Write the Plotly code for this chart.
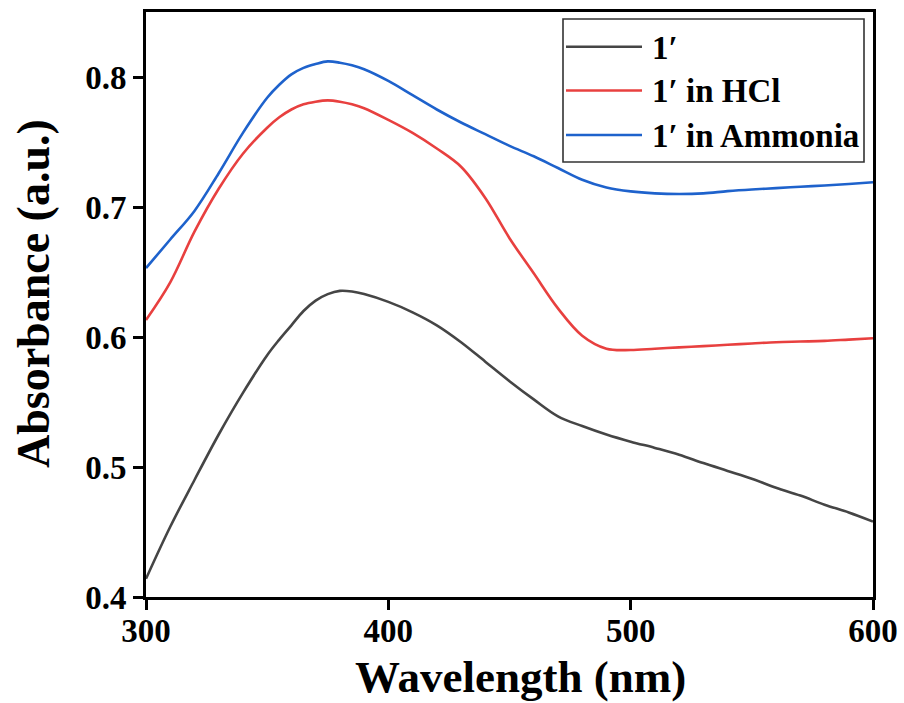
import plotly.graph_objects as go

# Wavelength grid (nm) and absorbance readings for each sample
wavelength = [300, 310, 320, 330, 340, 350, 355, 360, 365, 370, 375, 380, 385, 390,
              400, 410, 420, 430, 440, 450, 460, 470, 480, 490, 500, 510, 520, 530,
              540, 550, 560, 570, 580, 590, 600]

abs_plain = [0.414, 0.454, 0.490, 0.525, 0.557, 0.586, 0.598, 0.609, 0.620, 0.628,
             0.633, 0.6355, 0.635, 0.633, 0.627, 0.619, 0.609, 0.596, 0.581, 0.566,
             0.552, 0.539, 0.5315, 0.525, 0.5195, 0.5147, 0.5095, 0.503, 0.497, 0.491,
             0.484, 0.478, 0.471, 0.465, 0.458]

abs_hcl = [0.613, 0.642, 0.681, 0.714, 0.741, 0.761, 0.769, 0.775, 0.779, 0.781,
           0.782, 0.781, 0.779, 0.776, 0.767, 0.757, 0.745, 0.731, 0.707, 0.676,
           0.649, 0.622, 0.601, 0.591, 0.590, 0.591, 0.592, 0.593, 0.594, 0.595,
           0.596, 0.5965, 0.597, 0.598, 0.599]

abs_ammonia = [0.653, 0.675, 0.697, 0.726, 0.757, 0.784, 0.794, 0.802, 0.807, 0.810,
               0.812, 0.811, 0.809, 0.806, 0.797, 0.786, 0.775, 0.765, 0.756, 0.747,
               0.739, 0.730, 0.721, 0.715, 0.712, 0.7105, 0.710, 0.7105, 0.7122,
               0.7135, 0.7145, 0.7156, 0.7165, 0.7177, 0.719]

series_names = ["1\u2032", "1\u2032 in HCl", "1\u2032 in Ammonia"]
series_values = [abs_plain, abs_hcl, abs_ammonia]
series_colors = ["#454545", "#E8403F", "#1E62CC"]

x_ticks = [300, 400, 500, 600]
y_ticks = [0.4, 0.5, 0.6, 0.7, 0.8]

FONT = "Liberation Serif"

fig = go.Figure()
for name, vals, col in zip(series_names, series_values, series_colors):
    fig.add_trace(go.Scatter(
        x=wavelength, y=vals, mode="lines", name=name,
        line=dict(color=col, width=2.6, shape="spline", smoothing=1.0),
        showlegend=False,
    ))

# Plot-area geometry in pixels, used to place the framed legend
L, R, T, B = 146, 873, 12, 597
W, H = R - L, B - T


def px_x(p):
    return (p - L) / W


def px_y(p):
    return (B - p) / H


shapes = [dict(type="rect", xref="paper", yref="paper",
               x0=px_x(563), x1=px_x(864), y0=px_y(162), y1=px_y(19),
               line=dict(color="#333333", width=1.6), fillcolor="white", layer="above")]
annotations = []
row_y = [46.7, 90.5, 135]
for name, col, ry in zip(series_names, series_colors, row_y):
    shapes.append(dict(type="line", xref="paper", yref="paper",
                       x0=px_x(566), x1=px_x(642), y0=px_y(ry), y1=px_y(ry),
                       line=dict(color=col, width=2.6), layer="above"))
    annotations.append(dict(xref="paper", yref="paper", x=px_x(650), y=px_y(ry + 1),
                            xanchor="left", yanchor="middle", showarrow=False,
                            text=name, font=dict(family=FONT, size=33, color="black",
                                                 weight="bold")))

# Axis titles
annotations.append(dict(xref="paper", yref="paper", x=px_x(520), y=px_y(677),
                        xanchor="center", yanchor="middle", showarrow=False,
                        text="Wavelength (nm)",
                        font=dict(family=FONT, size=45, color="black", weight="bold")))
annotations.append(dict(xref="paper", yref="paper", x=px_x(33), y=px_y(294),
                        xanchor="center", yanchor="middle", showarrow=False,
                        textangle=-90, text="Absorbance (a.u.)",
                        font=dict(family=FONT, size=46, color="black", weight="bold")))

axis_common = dict(showgrid=False, zeroline=False, showline=True, mirror=True,
                   automargin=False,
                   linecolor="black", linewidth=3, ticks="outside", ticklen=10,
                   tickwidth=3, tickcolor="black",
                   tickfont=dict(family=FONT, size=33, color="black", weight="bold"))

fig.update_layout(
    width=904, height=703,
    margin=dict(l=L, r=904 - R, t=T, b=703 - B, pad=0),
    paper_bgcolor="white", plot_bgcolor="white",
    font=dict(family=FONT, color="black"),
    xaxis=dict(range=[300, 600], tickvals=x_ticks, ticktext=[str(v) for v in x_ticks],
               ticklabelstandoff=-8, **axis_common),
    yaxis=dict(range=[0.4, 0.85], tickvals=y_ticks, ticktext=[f"{v:.1f}" for v in y_ticks],
               **axis_common),
    shapes=shapes, annotations=annotations,
)

fig.write_html("out.html")
